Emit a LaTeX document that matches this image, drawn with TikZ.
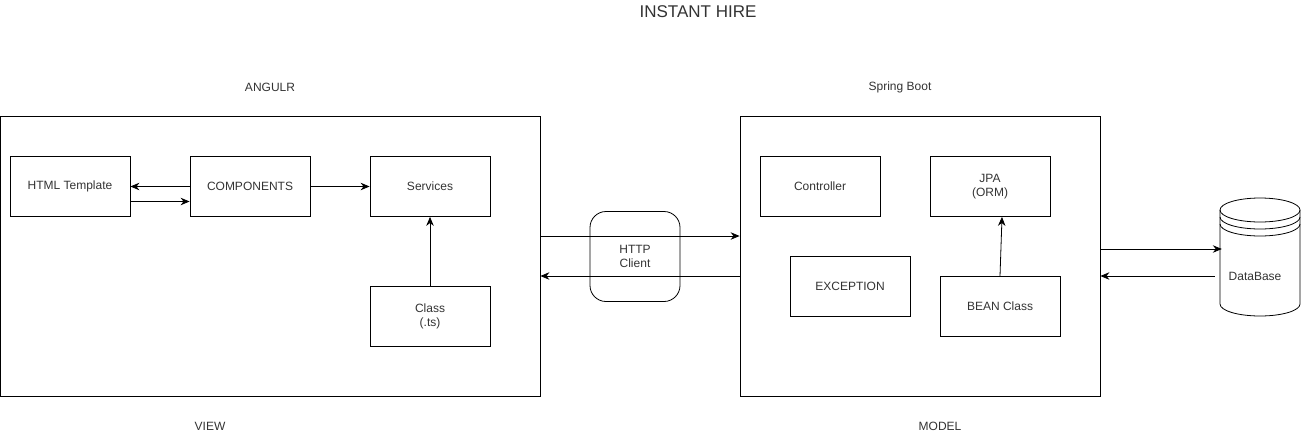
\documentclass[tikz,border=0pt]{standalone}
\usepackage{fontspec}
\setmainfont{Liberation Sans}
\usetikzlibrary{arrows.meta}
\begin{document}
\begin{tikzpicture}[x=1pt,y=-1pt,
  every node/.style={font=\fontsize{12}{14}\selectfont, text=black!80},
  box/.style={draw, line width=0.8pt, minimum width=120pt, minimum height=60pt, inner sep=0pt, align=center},
  frame/.style={draw, line width=0.8pt, minimum width=540pt, minimum height=280pt, inner sep=0pt},
  lbl/.style={font=\fontsize{12}{14}\selectfont},
  arr/.style={draw, line width=0.8pt, -{Stealth[length=9pt,width=7.5pt]}}]
\useasboundingbox (0,0) rectangle (1301,437);
\node[font=\fontsize{17}{20}\selectfont] (title) at (698,12) {INSTANT HIRE};
\node[lbl] (angl) at (270,87.5) {ANGULR};
\node[lbl] (spl) at (900,87.5) {Spring Boot};
\node[lbl] (view) at (210,426.5) {VIEW};
\node[lbl] (model) at (940,426.5) {MODEL};
\node[frame] (left) at (270,256) {};
\node[frame, minimum width=360pt] (right) at (920,256) {};
\node[box] (html) at (70,186.5) {HTML Template};
\node[box] (comp) at (250,186.5) {COMPONENTS};
\node[box] (serv) at (430,186.5) {Services};
\node[box] (cls) at (430,316.5) {Class\\(.ts)};
\node[box, minimum width=90pt, minimum height=90pt, rounded corners=16pt] (http) at (635,256.5) {HTTP\\Client};
\node[box] (ctrl) at (820,186.5) {Controller};
\node[box] (jpa) at (990,186.5) {JPA\\(ORM)};
\node[box] (exc) at (850,286.5) {EXCEPTION};
\node[box] (bean) at (1000,306.5) {BEAN Class};
% database cylinder
\begin{scope}[line width=0.8pt]
\draw (1220,210) -- (1220,304) arc[start angle=180,end angle=0,x radius=40,y radius=12] -- (1300,210);
\draw (1260,210) ellipse[x radius=40,y radius=12];
\draw (1220,217) arc[start angle=180,end angle=0,x radius=40,y radius=12];
\draw (1220,224) arc[start angle=180,end angle=0,x radius=40,y radius=12];
\end{scope}
\node[minimum width=80pt, minimum height=116pt, inner sep=0pt] (db) at (1260,258) {};
\node (dbl) at (1255,276.5) {DataBase};
% connectors
\draw[arr] (comp.west) -- (html.east);
\draw[arr] ([yshift=-15pt]html.east) -- ([yshift=-15pt]comp.west);
\draw[arr] (comp.east) -- (serv.west);
\draw[arr] (cls.north) -- (serv.south);
\draw[arr] ([yshift=20pt]left.east) -- ([yshift=20pt]right.west);
\draw[arr] ([yshift=-20pt]right.west) -- ([yshift=-20pt]left.east);
\draw[arr] (bean.north) -- ([xshift=12pt]jpa.south);
\draw[arr] ([yshift=7pt]right.east) -- ([yshift=9pt,xshift=2pt]db.west);
\draw[arr] ([yshift=-18pt,xshift=-5pt]db.west) -- ([yshift=-20pt]right.east);
\end{tikzpicture}
\end{document}
